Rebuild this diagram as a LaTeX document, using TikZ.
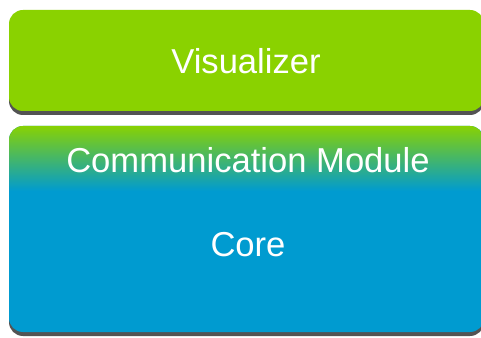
\documentclass[tikz,border=0pt]{standalone}
\usepackage{fontspec}
\setmainfont{Liberation Sans}
\usetikzlibrary{shadows}
\definecolor{visugreen}{RGB}{138,210,0}
\definecolor{coreblue}{RGB}{0,155,208}
\tikzset{
  layer/.style={rounded corners=14pt, fill=#1,
    drop shadow={shadow xshift=0pt, shadow yshift=-4pt, fill=black!75, opacity=0.9}},
  label/.style={text=white, font=\fontsize{34.6}{40}\selectfont}
}
\begin{document}
\begin{tikzpicture}[x=1pt,y=1pt]
        \useasboundingbox (0,0) rectangle (481,337);

        % couche du haut
        \path[layer=visugreen] (9,327) rectangle (484,226);
        \node[label] (visu) at (246,276) {Visualizer};

        % couche du bas, avec le degrade
        \path[layer=coreblue] (9,211) rectangle (484,5);
        \begin{scope}
          \clip[rounded corners=14pt] (9,211) rectangle (484,5);
          \shade[top color=visugreen, bottom color=coreblue] (9,212) rectangle (484,146);
        \end{scope}
        \node[label] (comm) at (248,177) {Communication Module};
        \node[label] (core) at (248,92) {Core};
    \end{tikzpicture}
\end{document}
